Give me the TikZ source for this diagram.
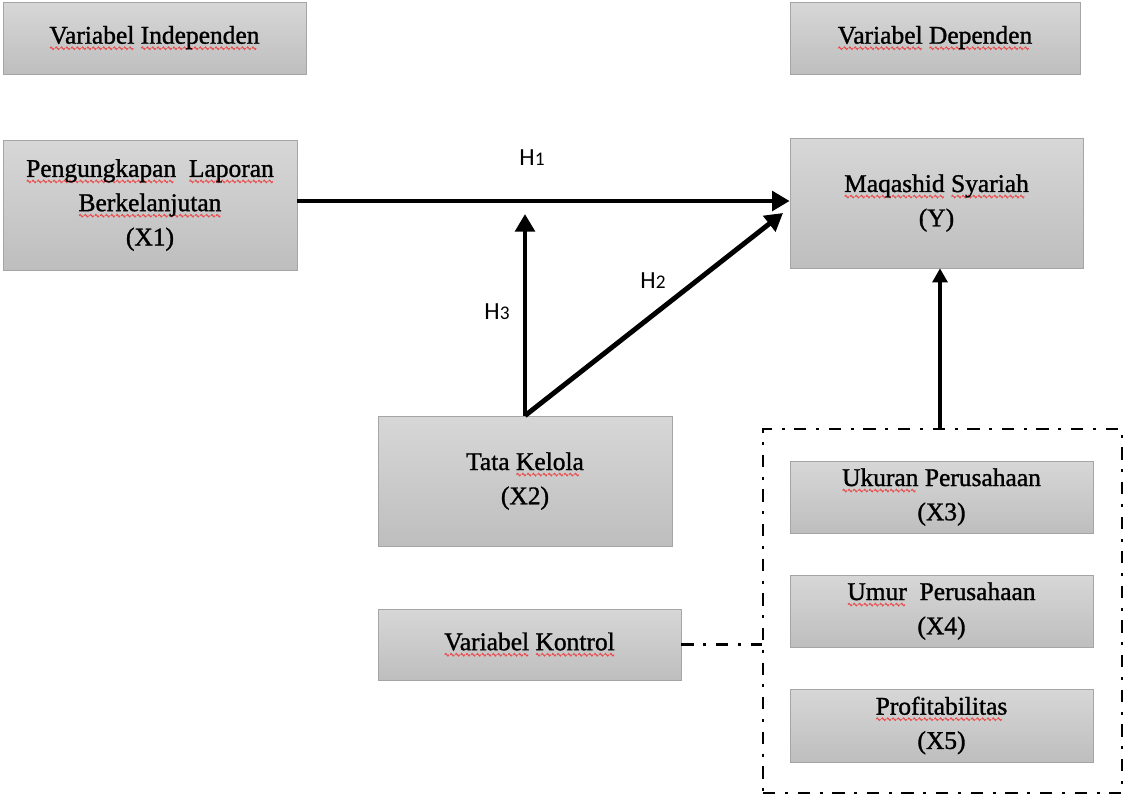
\documentclass[tikz,border=0pt]{standalone}
\usepackage{fontspec}
\setmainfont{Liberation Serif}[BoldFont={Liberation Serif}, BoldFeatures={FakeBold=1.2}]
\newfontfamily\hypfont{Carlito}
\usepackage{xcolor}
\usetikzlibrary{arrows.meta,positioning}
\definecolor{boxtop}{RGB}{215,215,215}
\definecolor{boxbot}{RGB}{190,190,190}
\definecolor{boxline}{RGB}{165,165,165}
\definecolor{spellred}{RGB}{235,75,75}
\newsavebox{\wavebox}
\newcommand{\wavy}[1]{\setbox0\hbox{#1}\rlap{\raisebox{-3.6pt}{\hbox to \wd0{\leaders\copy\wavebox\hfil}}}\box0\relax}

\begin{document}
\sbox{\wavebox}{\pgfpicture
  \pgfsetlinewidth{0.6pt}\pgfsetstrokecolor{spellred}
  \pgfpathmoveto{\pgfpointorigin}
  \pgfpathsine{\pgfpoint{0.6pt}{0.7pt}}\pgfpathcosine{\pgfpoint{0.6pt}{-0.7pt}}
  \pgfpathsine{\pgfpoint{0.6pt}{-0.7pt}}\pgfpathcosine{\pgfpoint{0.6pt}{0.7pt}}
  \pgfusepath{stroke}\endpgfpicture}
\begin{tikzpicture}[
    x=0.02cm, y=-0.02cm,
    var_box/.style={rectangle, draw=boxline, top color=boxtop, bottom color=boxbot,
                    align=center, inner sep=0pt, font=\fontsize{14.5}{19.5}\selectfont\bfseries},
    hyp_arrow/.style={-{Triangle[length=10pt,width=11pt]}, line width=2.8pt},
    ctrl_arrow/.style={-{Triangle[length=8pt,width=8.5pt]}, line width=1.9pt},
    dash_dot/.style={line width=1.6pt, dash pattern=on 7pt off 5.5pt on 1.7pt off 5.5pt},
    hyp_label/.style={font=\hypfont\fontsize{14}{16}\selectfont}
]
\useasboundingbox (0,0) rectangle (1125,797);

% Header boxes
\node[var_box, minimum width=6.06cm, minimum height=1.44cm] (indep) at (154.5,38) {\wavy{Variabel} \wavy{Independen}};
\node[var_box, minimum width=5.8cm, minimum height=1.44cm] (dep) at (935,38) {\wavy{Variabel} \wavy{Dependen}};

% Main variables
\node[var_box, minimum width=5.88cm, minimum height=2.6cm] (x1) at (150,205)
  {\wavy{Pengungkapan}\ \ \wavy{Laporan}\\ \wavy{Berkelanjutan}\\ (X1)};
\node[var_box, minimum width=5.86cm, minimum height=2.6cm] (y) at (936.5,203)
  {\wavy{Maqashid} \wavy{Syariah}\\ (Y)};
\node[var_box, minimum width=5.88cm, minimum height=2.6cm] (x2) at (525,481)
  {Tata \wavy{Kelola}\\ (X2)};

% Control variables
\node[var_box, minimum width=6.06cm, minimum height=1.42cm] (kontrol) at (529.5,644.5) {\wavy{Variabel} \wavy{Kontrol}};
\node[var_box, minimum width=6.06cm, minimum height=1.44cm] (x3) at (941.5,497) {\wavy{Ukuran} Perusahaan\\ (X3)};
\node[var_box, minimum width=6.06cm, minimum height=1.44cm] (x4) at (941.5,611) {\wavy{Umur}\ \ Perusahaan\\ (X4)};
\node[var_box, minimum width=6.06cm, minimum height=1.46cm] (x5) at (941.5,725.5) {\wavy{Profitabilitas}\\ (X5)};
\node[dash_dot, draw, rectangle, minimum width=7.18cm, minimum height=7.28cm, inner sep=0pt] (ctrl) at (942.5,611) {};

% Hypothesis labels
\node[hyp_label] (h1) at (532,158) {H{\fontsize{11}{12}\selectfont 1}};
\node[hyp_label] (h2) at (653,281) {H{\fontsize{11}{12}\selectfont 2}};
\node[hyp_label] (h3) at (497,312) {H{\fontsize{11}{12}\selectfont 3}};

% Arrows
\coordinate (h3end) at (525,214);
\coordinate (h2end) at (783,213);
\draw[hyp_arrow] (x1.east |- 0,201) -- (y.west |- 0,201);
\draw[hyp_arrow] (x2.north) -- (h3end);
\draw[hyp_arrow] (x2.north) -- (h2end);
\draw[ctrl_arrow] (ctrl.north -| 940,0) -- (y.south -| 940,0);
\draw[dash_dot] (kontrol.east) -- (kontrol.east -| ctrl.west);

\end{tikzpicture}
\end{document}
